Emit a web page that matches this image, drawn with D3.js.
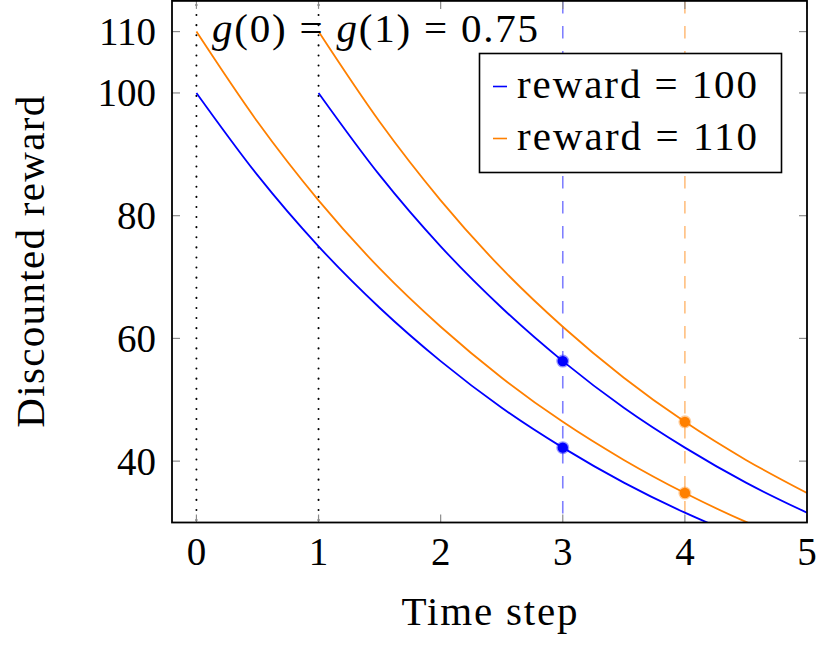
<!DOCTYPE html>
<html>
<head>
<meta charset="utf-8">
<script src="https://d3js.org/d3.v7.min.js"></script>
<style>
  body { margin: 0; background: #fff; }
  text { font-family: "Liberation Serif", "DejaVu Serif", serif; fill: #000; }
</style>
</head>
<body>
<div id="chart"></div>
<script>

// time steps read at half-step spacing
var stepsFrom0 = [0, 0.5, 1, 1.5, 2, 2.5, 3, 3.5, 4, 4.5, 5];
var stepsFrom1 = [1, 1.5, 2, 2.5, 3, 3.5, 4, 4.5, 5];

// discounted reward values
var blueFrom0   = [100, 86.6, 75, 65, 56.3, 48.7, 42.2, 36.5, 31.6, 27.4, 23.7];
var orangeFrom0 = [110, 95.3, 82.5, 71.4, 61.9, 53.6, 46.4, 40.2, 34.8, 30.1, 26.1];
var blueFrom1   = [100, 86.6, 75, 65, 56.3, 48.7, 42.2, 36.5, 31.6];
var orangeFrom1 = [110, 95.3, 82.5, 71.4, 61.9, 53.6, 46.4, 40.2, 34.8];

// highlighted points
var blueDots   = [{t: 3, v: 42.2}, {t: 3, v: 56.3}];
var orangeDots = [{t: 4, v: 34.8}, {t: 4, v: 46.4}];

var xTicks = [0, 1, 2, 3, 4, 5];
var yTicks = [40, 60, 80, 100, 110];
var dottedAt = [0, 1];
var legendLabels = ["reward = 100", "reward = 110"];

var BLUE = "#0000ff", ORANGE = "#ff8000";

var W = 831, H = 649;
var pLeft = 172, pRight = 807, pTop = 0.9, pBottom = 522.5;

var svg = d3.select("#chart").append("svg")
    .attr("width", W)
    .attr("height", H);

var x = d3.scaleLinear().domain([-0.2, 5]).range([pLeft, pRight]);
var y = d3.scaleLinear().domain([30, 115]).range([pBottom, pTop]);

svg.append("clipPath").attr("id", "plotclip")
  .append("rect")
    .attr("x", pLeft).attr("y", pTop)
    .attr("width", pRight - pLeft).attr("height", pBottom - pTop);

var plot = svg.append("g").attr("clip-path", "url(#plotclip)");

// tick marks (inside, mirrored)
var tickLen = 8;
var ticks = svg.append("g").attr("stroke", "#8c8c8c").attr("stroke-width", 1.2);
xTicks.forEach(function(d) {
  ticks.append("line").attr("x1", x(d)).attr("x2", x(d)).attr("y1", pBottom).attr("y2", pBottom - tickLen);
  ticks.append("line").attr("x1", x(d)).attr("x2", x(d)).attr("y1", pTop).attr("y2", pTop + tickLen);
});
yTicks.forEach(function(d) {
  ticks.append("line").attr("x1", pLeft).attr("x2", pLeft + tickLen).attr("y1", y(d)).attr("y2", y(d));
  ticks.append("line").attr("x1", pRight).attr("x2", pRight - tickLen).attr("y1", y(d)).attr("y2", y(d));
});

// dotted verticals
dottedAt.forEach(function(d) {
  plot.append("line")
    .attr("x1", x(d)).attr("x2", x(d)).attr("y1", pTop + 4).attr("y2", pBottom)
    .attr("stroke", "#000").attr("stroke-width", 2)
    .attr("stroke-linecap", "round")
    .attr("stroke-dasharray", "0.1,10");
});

// dashed verticals
[[3, BLUE], [4, ORANGE]].forEach(function(d) {
  plot.append("line")
    .attr("x1", x(d[0])).attr("x2", x(d[0])).attr("y1", pTop).attr("y2", pBottom)
    .attr("stroke", d[1]).attr("stroke-opacity", 0.5).attr("stroke-width", 1.6)
    .attr("stroke-dasharray", "12.5,12.5");
});

var line = d3.line()
    .x(function(d) { return x(d[0]); })
    .y(function(d) { return y(d[1]); })
    .curve(d3.curveMonotoneX);

function drawCurve(ts, vs, color) {
  plot.append("path")
    .datum(d3.zip(ts, vs))
    .attr("fill", "none")
    .attr("stroke", color)
    .attr("stroke-width", 1.8)
    .attr("d", line);
}
drawCurve(stepsFrom0, blueFrom0, BLUE);
drawCurve(stepsFrom1, blueFrom1, BLUE);
drawCurve(stepsFrom0, orangeFrom0, ORANGE);
drawCurve(stepsFrom1, orangeFrom1, ORANGE);

function drawDots(data, color) {
  plot.selectAll(null).data(data).enter().append("circle")
    .attr("cx", function(d) { return x(d.t); })
    .attr("cy", function(d) { return y(d.v); })
    .attr("r", 5.2)
    .attr("fill", color)
    .attr("stroke", color).attr("stroke-opacity", 0.4).attr("stroke-width", 2.6);
}
drawDots(blueDots, BLUE);
drawDots(orangeDots, ORANGE);

// frame
svg.append("rect")
  .attr("x", pLeft).attr("y", pTop)
  .attr("width", pRight - pLeft).attr("height", pBottom - pTop)
  .attr("fill", "none").attr("stroke", "#000").attr("stroke-width", 1.8);

// tick labels
svg.append("g").selectAll("text").data(xTicks).enter().append("text")
  .attr("x", function(d) { return x(d); })
  .attr("y", 565)
  .attr("text-anchor", "middle")
  .attr("font-size", 39)
  .text(function(d) { return d; });

svg.append("g").selectAll("text").data(yTicks).enter().append("text")
  .attr("x", 156)
  .attr("y", function(d) { return y(d) + 13.5; })
  .attr("text-anchor", "end")
  .attr("font-size", 39)
  .text(function(d) { return d; });

// axis labels
svg.append("text")
  .attr("x", (pLeft + pRight) / 2).attr("y", 625)
  .attr("text-anchor", "middle")
  .attr("font-size", 41)
  .attr("textLength", 176)
  .attr("lengthAdjust", "spacing")
  .text("Time step");

svg.append("text")
  .attr("transform", "translate(44," + ((pTop + pBottom) / 2) + ") rotate(-90)")
  .attr("text-anchor", "middle")
  .attr("font-size", 41)
  .attr("textLength", 332)
  .attr("lengthAdjust", "spacing")
  .text("Discounted reward");

// annotation
var note = svg.append("text")
  .attr("x", 212).attr("y", 42)
  .attr("font-size", 41)
  .attr("textLength", 326)
  .attr("lengthAdjust", "spacing");
note.append("tspan").attr("font-style", "italic").text("g");
note.append("tspan").text("(0) = ");
note.append("tspan").attr("font-style", "italic").text("g");
note.append("tspan").text("(1) = 0.75");

// legend
var lg = svg.append("g");
lg.append("rect")
  .attr("x", 479.5).attr("y", 53.5)
  .attr("width", 302).attr("height", 119)
  .attr("fill", "#fff").attr("stroke", "#000").attr("stroke-width", 1.6);
[BLUE, ORANGE].forEach(function(c, i) {
  var by = 98 + i * 52;
  lg.append("line")
    .attr("x1", 493).attr("x2", 507).attr("y1", by - 11.5).attr("y2", by - 11.5)
    .attr("stroke", c).attr("stroke-width", 1.6);
  lg.append("text")
    .attr("x", 517).attr("y", by)
    .attr("font-size", 41)
    .attr("textLength", 240)
    .attr("lengthAdjust", "spacing")
    .text(legendLabels[i]);
});

</script>
</body>
</html>
